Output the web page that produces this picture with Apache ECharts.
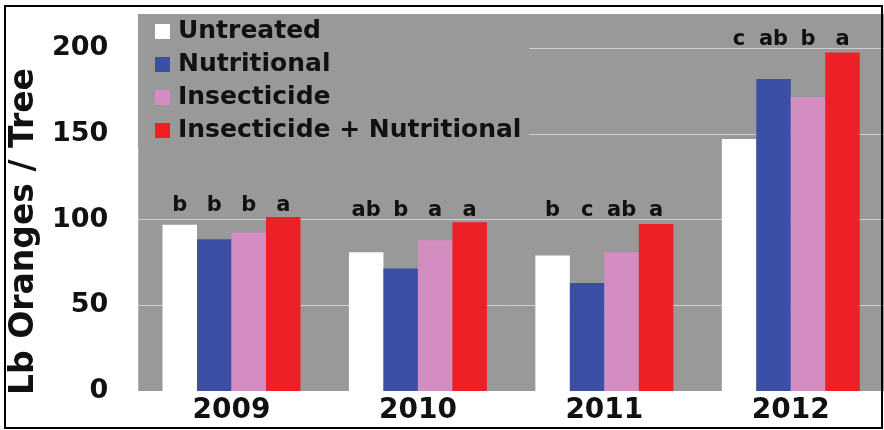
<!DOCTYPE html>
<html>
<head>
<meta charset="utf-8">
<script src="https://cdn.jsdelivr.net/npm/echarts@6/dist/echarts.min.js"></script>
<style>
html,body{margin:0;padding:0;background:#fff;}
#c{width:884px;height:430px;}
</style>
</head>
<body>
<div id="c"></div>
<script>
var years = ['2009', '2010', '2011', '2012'];
var seriesNames = ['Untreated', 'Nutritional', 'Insecticide', 'Insecticide + Nutritional'];
var untreated = [97, 81, 79, 147];
var nutritional = [88.5, 71.5, 63, 182];
var insecticide = [92.5, 88, 81, 171.5];
var insNutritional = [101.5, 98.5, 97.5, 197.5];
var lettersUntreated = ['b', 'ab', 'b', 'c'];
var lettersNutritional = ['b', 'b', 'c', 'ab'];
var lettersInsecticide = ['b', 'a', 'ab', 'b'];
var lettersInsNutritional = ['a', 'a', 'a', 'a'];
var letterLevel = [102.3, 99.3, 99.3, 198.8];
var yTicks = [0, 50, 100, 150, 200];

var colors = ['#ffffff', '#3a4fa5', '#d48dc0', '#ec2025'];
var values = [untreated, nutritional, insecticide, insNutritional];
var letters = [lettersUntreated, lettersNutritional, lettersInsecticide, lettersInsNutritional];
var FONT = 'DejaVu Sans';

var series = [];
for (var i = 0; i < 4; i++) {
  series.push({
    name: seriesNames[i],
    type: 'bar',
    xAxisIndex: 0,
    data: values[i],
    barGap: '0%',
    barCategoryGap: '26%',
    itemStyle: { color: colors[i] },
    z: 2
  });
}
for (var j = 0; j < 4; j++) {
  (function (k) {
    series.push({
      name: 'lbl' + k,
      type: 'bar',
      xAxisIndex: 1,
      data: letterLevel,
      barGap: '0%',
      barCategoryGap: '26%',
      silent: true,
      itemStyle: { color: 'rgba(0,0,0,0)' },
      label: {
        show: true,
        position: 'top',
        distance: 0,
        fontFamily: FONT,
        fontWeight: 'bold',
        fontSize: 21,
        lineHeight: 21,
        color: '#111',
        formatter: function (p) { return letters[k][p.dataIndex]; }
      },
      z: 3
    });
  })(j);
}

var chart = echarts.init(document.getElementById('c'), null, { renderer: 'canvas' });
chart.setOption({
  animation: false,
  backgroundColor: '#ffffff',
  grid: {
    left: 138, right: 0, top: 14, bottom: 39,
    show: true, backgroundColor: '#999999', borderWidth: 0
  },
  legend: {
    data: seriesNames,
    orient: 'vertical',
    left: 138, top: 14,
    padding: [5, 8, 5, 17],
    backgroundColor: '#999999',
    itemWidth: 15, itemHeight: 15, itemGap: 8,
    icon: 'rect',
    selectedMode: false,
    textStyle: {
      fontFamily: FONT, fontWeight: 'bold', fontSize: 25, lineHeight: 25,
      color: '#111', padding: [0, 0, 0, 3]
    }
  },
  xAxis: [{
    type: 'category',
    data: years,
    axisLine: { show: false },
    axisTick: { show: false },
    axisLabel: {
      fontFamily: FONT, fontWeight: 'bold', fontSize: 28, color: '#111', margin: 6
    }
  }, {
    type: 'category',
    data: years,
    show: false
  }],
  yAxis: {
    type: 'value',
    min: 0, max: 220, interval: 50,
    name: 'Lb Oranges / Tree',
    nameLocation: 'middle',
    nameGap: 95,
    nameTextStyle: {
      fontFamily: FONT, fontWeight: 'bold', fontSize: 33, color: '#111',
      padding: [0, 58, 0, 0]
    },
    axisLine: { show: false },
    axisTick: { show: false },
    axisLabel: {
      showMaxLabel: false,
      fontFamily: FONT, fontWeight: 'bold', fontSize: 27, color: '#111', margin: 30,
      formatter: function (v) { return yTicks.indexOf(v) >= 0 ? String(v) : ''; }
    },
    splitLine: {
      lineStyle: {
        color: ['rgba(0,0,0,0)', '#cfcfcf', '#cfcfcf', '#cfcfcf', '#cfcfcf', 'rgba(0,0,0,0)'],
        width: 1
      }
    }
  },
  graphic: [{
    type: 'rect',
    shape: { x: 5, y: 6, width: 877, height: 422 },
    style: { fill: null, stroke: '#000', lineWidth: 2 },
    z: 100,
    silent: true
  }],
  series: series
});
</script>
</body>
</html>
